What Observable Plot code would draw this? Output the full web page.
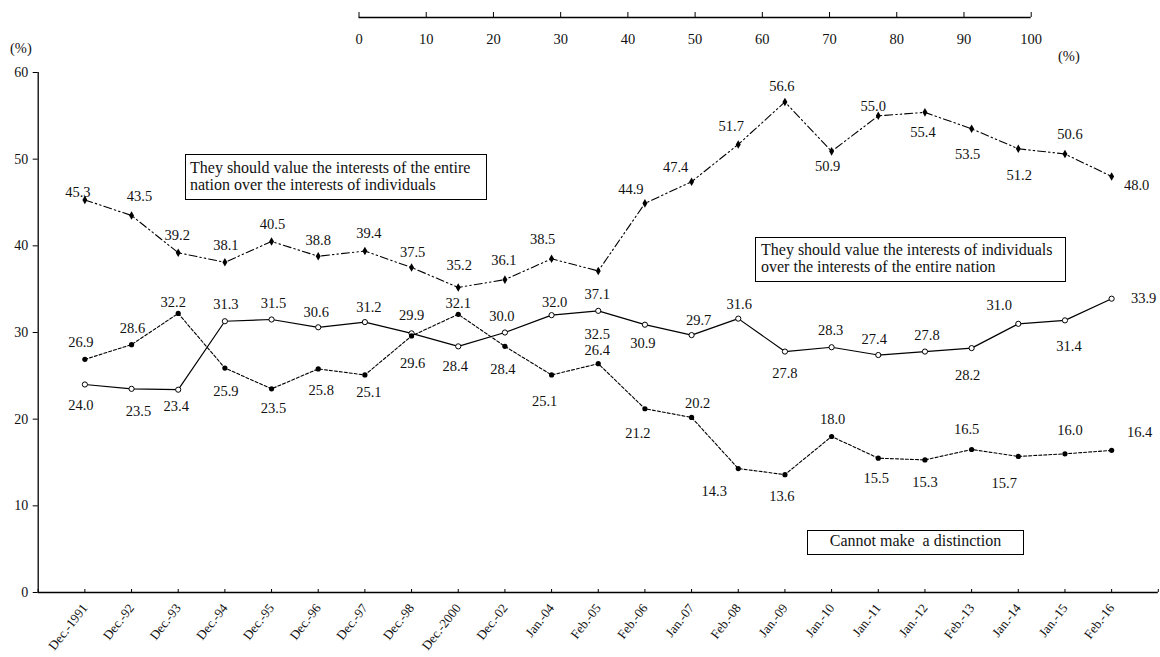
<!DOCTYPE html>
<html>
<head>
<meta charset="utf-8">
<script src="https://cdn.jsdelivr.net/npm/d3@7"></script>
<script src="https://cdn.jsdelivr.net/npm/@observablehq/plot@0.6"></script>
<style>
  body { margin: 0; background: #fff; }
  #wrap { position: relative; width: 1160px; height: 657px; overflow: hidden;
          font-family: "Liberation Serif", "Times New Roman", serif; color: #111; }
  #main, #topaxis { position: absolute; left: 0; top: 0; }
  .box { position: absolute; box-sizing: border-box; border: 1px solid #000; background: #fff;
         font-size: 16px; line-height: 16.5px; white-space: nowrap; }
  .unit { position: absolute; font-size: 14.5px; line-height: 15px; white-space: nowrap; }
</style>
</head>
<body>
<div id="wrap">
  <div id="main"></div>
  <div id="topaxis"></div>
  <div class="unit" style="left:10px;top:41px;">(%)</div>
  <div class="unit" style="left:1058px;top:49px;">(%)</div>
  <div class="box" style="left:185px;top:154px;width:302px;height:46px;padding:5px 0 0 4px;">They should value the interests of the entire<br>nation over the interests of individuals</div>
  <div class="box" style="left:755px;top:237px;width:311px;height:45px;padding:4px 0 0 5px;">They should value the interests of individuals<br>over the interests of the entire nation</div>
  <div class="box" style="left:807px;top:530px;width:217px;height:25px;padding:2px 0 0 0;text-align:center;">Cannot make&nbsp; a distinction</div>
</div>
<script>
// ---- data ----
const dates = ["Dec.-1991","Dec.-92","Dec.-93","Dec.-94","Dec.-95","Dec.-96","Dec.-97","Dec.-98",
  "Dec.-2000","Dec.-02","Jan.-04","Feb.-05","Feb.-06","Jan.-07","Feb.-08","Jan.-09","Jan.-10",
  "Jan.-11","Jan.-12","Feb.-13","Jan.-14","Jan.-15","Feb.-16"];

// They should value the interests of the entire nation over the interests of individuals
const nation = [45.3, 43.5, 39.2, 38.1, 40.5, 38.8, 39.4, 37.5, 35.2, 36.1, 38.5, 37.1,
  44.9, 47.4, 51.7, 56.6, 50.9, 55.0, 55.4, 53.5, 51.2, 50.6, 48.0];

// They should value the interests of individuals over the interests of the entire nation
const individuals = [24.0, 23.5, 23.4, 31.3, 31.5, 30.6, 31.2, 29.9, 28.4, 30.0, 32.0, 32.5,
  30.9, 29.7, 31.6, 27.8, 28.3, 27.4, 27.8, 28.2, 31.0, 31.4, 33.9];

// Cannot make a distinction
const cannot = [26.9, 28.6, 32.2, 25.9, 23.5, 25.8, 25.1, 29.6, 32.1, 28.4, 25.1, 26.4,
  21.2, 20.2, 14.3, 13.6, 18.0, 15.5, 15.3, 16.5, 15.7, 16.0, 16.4];

const yTicks = [0, 10, 20, 30, 40, 50, 60];
const topTicks = [0, 10, 20, 30, 40, 50, 60, 70, 80, 90, 100];

// value-label placement (pixel offsets of each label from its point)
const nationLabelOffsets = [[-7,-8],[8,-19],[-1,-17],[1,-17],[1,-17],[0,-16],[4,-18],[1,-15],
  [1,-22],[-1,-19],[-9,-19],[-1,23],[-14,-14],[-16,-14],[-7,-18],[-3,-16],[-4,15],[-5,-9],
  [-2,20],[-4,26],[1,27],[5,-20],[25,9]];
const individualsLabelOffsets = [[-4,21],[7,23],[-2,17],[1,-17],[2,-16],[-2,-15],[4,-15],[0,-18],
  [-3,20],[-3,-16],[3,-13],[-1,24],[-2,19],[7,-15],[1,-14],[0,22],[-1,-17],[-4,-16],[2,-16],
  [-4,27],[-19,-18],[4,26],[32,0]];
const cannotLabelOffsets = [[-4,-17],[1,-16],[-5,-11],[1,23],[2,20],[3,21],[4,17],[1,27],
  [0,-11],[-2,23],[-7,26],[-1,-13],[-7,25],[6,-14],[-24,23],[-3,22],[1,-17],[-2,20],[0,22],
  [-5,-20],[-14,27],[5,-23],[28,-18]];

// ---- build ----
const rows = vals => vals.map((v, i) => ({i, v, label: dates[i]}));
const nationRows = rows(nation), indRows = rows(individuals), cannotRows = rows(cannot);

function valueLabels(data, offsets) {
  return data.map((d, k) => Plot.text([d], {
    x: "i", y: "v", text: d => d.v.toFixed(1),
    dx: offsets[k][0], dy: offsets[k][1],
    fontSize: 14.5, fill: "#111"
  }));
}

const mainPlot = Plot.plot({
  width: 1160, height: 657,
  marginLeft: 37.7, marginRight: 2.2, marginTop: 72, marginBottom: 65,
  style: {fontFamily: "'Liberation Serif', 'Times New Roman', serif", background: "transparent", color: "#111"},
  x: {type: "linear", domain: [-1, dates.length]},
  y: {domain: [0, 60]},
  marks: [
    Plot.ruleY([0], {stroke: "#000", strokeWidth: 1.3}),
    Plot.ruleX([-1], {stroke: "#000", strokeWidth: 1.3}),
    Plot.axisY({ticks: yTicks, tickSize: 5, tickPadding: 5, fontSize: 14, label: null, stroke: "#000"}),
    Plot.axisX({ticks: d3.range(-1, dates.length + 1), tickSize: -3, tickPadding: 16, tickRotate: -52,
      tickFormat: i => dates[i] ?? "", fontSize: 13, label: null, stroke: "#000"}),
    Plot.line(nationRows, {x: "i", y: "v", stroke: "#000", strokeWidth: 1.1, strokeDasharray: "8,3,1.5,3,1.5,3"}),
    Plot.line(indRows, {x: "i", y: "v", stroke: "#000", strokeWidth: 1.2}),
    Plot.line(cannotRows, {x: "i", y: "v", stroke: "#000", strokeWidth: 1.1, strokeDasharray: "3,2"}),
    Plot.dot(nationRows, {x: "i", y: "v", symbol: "diamond", fill: "#000", r: 2.6}),
    Plot.dot(indRows, {x: "i", y: "v", symbol: "circle", fill: "#fff", stroke: "#000", strokeWidth: 1, r: 2.6}),
    Plot.dot(cannotRows, {x: "i", y: "v", symbol: "circle", fill: "#000", r: 2.6}),
    ...valueLabels(nationRows, nationLabelOffsets),
    ...valueLabels(indRows, individualsLabelOffsets),
    ...valueLabels(cannotRows, cannotLabelOffsets)
  ]
});
document.getElementById("main").appendChild(mainPlot);

const topPlot = Plot.plot({
  width: 1160, height: 60,
  marginLeft: 358.5, marginRight: 129.3, marginTop: 12, marginBottom: 43,
  style: {fontFamily: "'Liberation Serif', 'Times New Roman', serif", background: "transparent", color: "#111"},
  x: {domain: [0, 100]},
  y: {domain: [0, 1], axis: null},
  marks: [
    Plot.ruleY([0], {stroke: "#000", strokeWidth: 1.3}),
    Plot.tickX(topTicks, {x: d => d, stroke: "#000"}),
    Plot.axisX({ticks: topTicks, tickSize: 0, tickPadding: 16, fontSize: 14.5, label: null})
  ]
});
document.getElementById("topaxis").appendChild(topPlot);
</script>
</body>
</html>
